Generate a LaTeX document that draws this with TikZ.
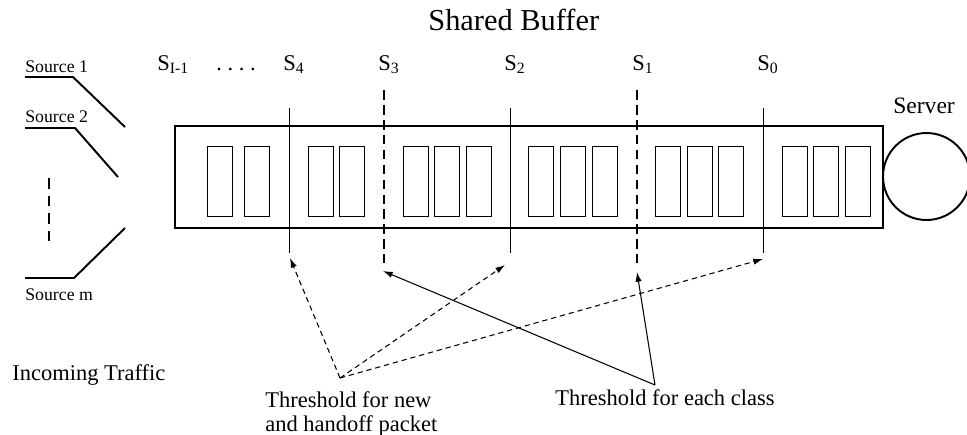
\documentclass[tikz,border=0pt]{standalone}
\usepackage{fontspec}
\setmainfont{Liberation Serif}
\usetikzlibrary{arrows.meta}
\tikzset{
  txt/.style={inner sep=0pt, anchor=base west, font=\fontsize{12.8}{13.6}\selectfont},
  srctxt/.style={txt, font=\fontsize{10.1}{12}\selectfont},
  bufbox/.style={draw, line width=1.4pt, minimum width=14.16cm, minimum height=2.04cm, inner sep=0pt},
  pkt/.style={draw, line width=0.5pt, minimum width=0.51cm, minimum height=1.4cm, inner sep=0pt},
  srv/.style={draw, circle, line width=1.1pt, minimum size=1.74cm, inner sep=0pt},
  divider/.style={line width=0.5pt},
  classline/.style={line width=1.3pt, dash pattern=on 5.5pt off 3pt},
  srcline/.style={line width=1.1pt},
  newarrow/.style={-{Latex[length=5.5pt,width=3.6pt]}, line width=0.6pt, dash pattern=on 3pt off 2.2pt},
  classarrow/.style={-{Latex[length=5.5pt,width=3.6pt]}, line width=0.6pt}
}
\begin{document}
\begin{tikzpicture}[x=0.02cm, y=-0.02cm]
  \useasboundingbox (0,0) rectangle (967,434);

  \node[txt, font=\fontsize{17.3}{20}\selectfont] (title) at (428,30) {Shared Buffer};

  % buffer, packets and server
  \node[bufbox] (buffer) at (529,177) {};
  \foreach \px [count=\i] in {207,244,308,339,403,434,466,528,560,592,655,687,718,782,813,845}
    \node[pkt] (pkt\i) at (\px+13,181) {};
  \node[srv] (server) at (926.5,176.5) {};
  \node[txt, font=\fontsize{13.4}{15}\selectfont] (srvlbl) at (893,113) {Server};

  % thresholds: thin ones for new/handoff, dashed ones per class
  \foreach \nm/\px in {s4/289,s2/510,s0/763} {
    \coordinate (\nm t) at (\px,108);
    \coordinate (\nm b) at (\px,253);
    \draw[divider] (\nm t) -- (\nm b);
  }
  \foreach \nm/\px in {s3/384,s1/637} {
    \coordinate (\nm t) at (\px,90);
    \coordinate (\nm b) at (\px,263);
    \draw[classline] (\nm t) -- (\nm b);
  }

  \node[txt] (slast) at (157,70) {S\textsubscript{I-1}};
  \node[txt] (sdots) at (216,70) {.\hspace{0.25em}.\hspace{0.25em}.\hspace{0.25em}.};
  \node[txt] (s4lbl) at (283,70) {S\textsubscript{4}};
  \node[txt] (s3lbl) at (378,70) {S\textsubscript{3}};
  \node[txt] (s2lbl) at (504,70) {S\textsubscript{2}};
  \node[txt] (s1lbl) at (632,70) {S\textsubscript{1}};
  \node[txt] (s0lbl) at (757,70) {S\textsubscript{0}};

  % sources
  \node[srctxt] (src1) at (25,72) {Source 1};
  \node[srctxt] (src2) at (25,122) {Source 2};
  \node[srctxt] (srcm) at (25,300) {Source m};
  \draw[srcline] (25,77) -- (73,77) -- (125,127);
  \draw[srcline] (25,128) -- (75,128) -- (118,177);
  \draw[srcline] (25,278) -- (74,278) -- (125,228);
  \draw[line width=1.2pt, dash pattern=on 6pt off 4pt] (49,178) -- (49,247);

  \node[txt] (inlbl) at (12,380) {Incoming Traffic};

  % threshold labels and their arrows
  \node[txt, align=left] (newlbl) at (265,431) {Threshold for new\\and handoff packet};
  \node[txt] (classlbl) at (555,405) {Threshold for each class};
  \coordinate (newfrom) at (340,378);
  \coordinate (classfrom) at (655,385);
  \coordinate (s4arr) at (290,258);
  \coordinate (s2arr) at (505,265);
  \coordinate (s0arr) at (763,259);
  \coordinate (s3arr) at (383,271);
  \coordinate (s1arr) at (637,272);

  \draw[newarrow] (newfrom) -- (s4arr);
  \draw[newarrow] (newfrom) -- (s2arr);
  \draw[newarrow] (newfrom) -- (s0arr);
  \draw[classarrow] (classfrom) -- (s3arr);
  \draw[classarrow] (classfrom) -- (s1arr);
\end{tikzpicture}
\end{document}
